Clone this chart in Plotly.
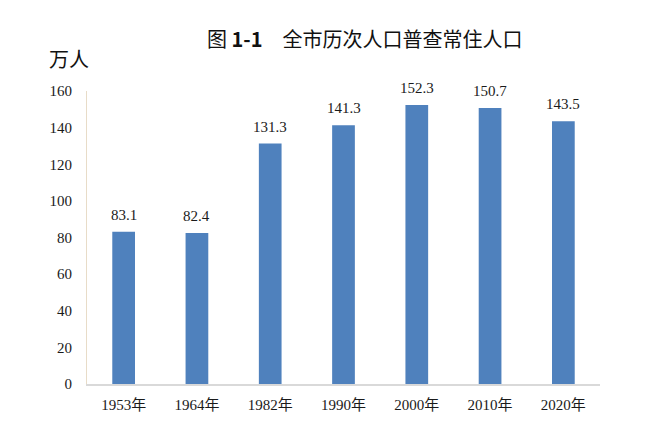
import plotly.graph_objects as go

# 全市历次人口普查常住人口（万人）
years = ['1953年', '1964年', '1982年', '1990年', '2000年', '2010年', '2020年']
population = [83.1, 82.4, 131.3, 141.3, 152.3, 150.7, 143.5]
y_ticks = [0, 20, 40, 60, 80, 100, 120, 140, 160]

serif = 'Times New Roman, Liberation Serif, serif'
cjk = 'Noto Sans CJK SC, sans-serif'

fig = go.Figure()

fig.add_trace(go.Bar(
    x=years,
    y=population,
    marker=dict(color='#4F81BD', line=dict(width=0)),
))

# value labels, lifted a bit above each bar
for yr, v in zip(years, population):
    fig.add_annotation(x=yr, y=v, text=f'{v:.1f}', showarrow=False,
                       yanchor='bottom', yshift=7,
                       font=dict(family=serif, size=15, color='#1a1a1a'))

# page puts the figure 8px in from the top-left corner
fig.update_layout(
    width=662, height=424,
    margin=dict(l=79, r=70, t=83, b=48),
    paper_bgcolor='white', plot_bgcolor='white',
    bargap=0.69,
    showlegend=False,
    font=dict(family=serif, size=15, color='#1a1a1a'),
    xaxis=dict(
        showline=True, linecolor='#D9D9D9', linewidth=2,
        showgrid=False, ticks='', ticklabelstandoff=6,
        tickfont=dict(family=serif + ', ' + cjk, size=15),
    ),
    yaxis=dict(
        range=[0, 160], tickvals=y_ticks,
        showline=True, linecolor='#E8DCC8', linewidth=1,
        showgrid=False, zeroline=False, ticks='', ticklabelstandoff=11,
        tickfont=dict(family=serif, size=15),
    ),
)

fig.add_annotation(text='图 <b>1-1</b>　全市历次人口普查常住人口', xref='paper', yref='paper',
                   x=0.54, y=1.18, xanchor='center', yanchor='middle', showarrow=False,
                   font=dict(family=cjk, size=20, color='#111111'))
fig.add_annotation(text='万人', xref='paper', yref='paper',
                   x=-0.078, y=1.11, xanchor='left', yanchor='middle', showarrow=False,
                   font=dict(family=cjk, size=20, color='#111111'))

fig.write_html('out.html')
